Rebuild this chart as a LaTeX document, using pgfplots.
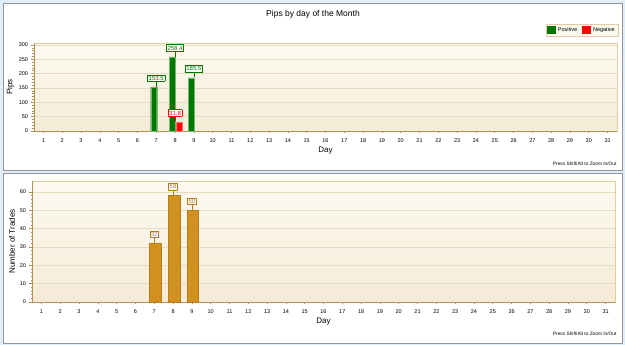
\documentclass[border=0pt]{standalone}
\usepackage{pgfplots}
\pgfplotsset{compat=1.18}
\usepackage{fontspec}
\setmainfont{Liberation Sans}
\definecolor{bargreen}{RGB}{0,120,0}
\definecolor{barred}{RGB}{255,0,0}
\definecolor{bargold}{RGB}{208,145,32}
\definecolor{golddark}{RGB}{185,125,25}
\definecolor{bgtop}{RGB}{253,250,242}
\definecolor{bgbot}{RGB}{245,235,214}
\definecolor{gridtan}{RGB}{232,220,192}
\definecolor{axisline}{RGB}{180,145,80}
\definecolor{bordertan}{RGB}{225,205,160}
\definecolor{panelgray}{RGB}{150,150,150}
\definecolor{paneblue}{RGB}{225,238,250}
\definecolor{legfill}{RGB}{252,249,240}
\newcommand\vallab[2]{{\setlength\fboxsep{0.9pt}\setlength\fboxrule{0.5pt}%
  \vbox{\offinterlineskip\halign{\hfil##\hfil\cr
    \fcolorbox{#1}{white}{\textcolor{#1}{#2}}\cr
    \textcolor{#1}{\rule{0.5pt}{5pt}}\cr}}}}
\pgfplotsset{
  dayaxis/.style={
    scale only axis, anchor=south west,
    xmin=0.5, xmax=31.5, xtick={1,...,31}, minor x tick num=3,
    ymin=0,
    axis x line*=bottom, axis y line*=left,
    axis line style={-, draw=axisline, line width=0.8pt},
    tick align=outside, tick style={draw=axisline, line width=0.6pt},
    major tick length=2.5pt, minor tick length=1.5pt,
    ymajorgrids, grid style={draw=gridtan, line width=0.6pt},
    axis background/.style={shade, shading angle=30, top color=bgtop, bottom color=bgbot, draw=bordertan},
    tick label style={font=\fontsize{5.5}{6}\selectfont},
    /pgf/number format/assume math mode=true,
    xticklabel style={yshift=-1.5pt},
    label style={font=\fontsize{8}{9}\selectfont},
    xlabel={Day},
    xlabel style={yshift=2pt},
    ylabel style={yshift=-2pt},
    clip=false,
  },
  vallabel/.style={
    nodes near coords={\vallab{#1}{\pgfmathprintnumber{\pgfplotspointmeta}}},
    every node near coord/.append style={
      font=\fontsize{6}{6.5}\selectfont, inner sep=0pt, anchor=south, yshift=0.2pt
    }
  }
}
\begin{document}
\begin{tikzpicture}[x=1pt,y=1pt]
\fill[paneblue] (0,0) rectangle (625,345);
\draw[panelgray, fill=white] (3,175) rectangle (622,342);
\draw[panelgray, fill=white] (3,2) rectangle (622,172);
\node[font=\fontsize{8.5}{10}\selectfont] at (313,331) {Pips by day of the Month};
\node[font=\fontsize{4.8}{5}\selectfont, anchor=east] at (620,181) {Press Shift/Alt to Zoom In/Out};
\node[font=\fontsize{4.8}{5}\selectfont, anchor=east] at (620,11) {Press Shift/Alt to Zoom In/Out};

\begin{axis}[dayaxis, at={(34pt,214pt)}, width=583pt, height=88pt,
  ymax=307, ytick={0,50,...,300}, minor y tick num=4,
  ylabel={Pips},
  legend style={at={(1,1)}, anchor=south east, yshift=7pt, xshift=1pt,
    legend columns=2, draw=bordertan, fill=legfill,
    font=\fontsize{5.5}{6}\selectfont, inner sep=1pt,
    /tikz/every even column/.append style={column sep=3pt}},
  legend image code/.code={\path[#1, draw=none] (0pt,-3.5pt) rectangle (9pt,4pt);},
]
\addplot[ybar, bar width=6pt, bar shift=-2.5pt, fill=bargreen, draw=bargreen!55!white, line width=0.4pt, vallabel=bargreen]
  coordinates {(7,153.5) (8,258.4) (9,185.5)};
\addlegendentry{Positive}
\addplot[ybar, bar width=6pt, bar shift=4.5pt, fill=barred, draw=barred!55!white, line width=0.4pt, vallabel=barred]
  coordinates {(8,31.8)};
\addlegendentry{Negative}
\end{axis}

\begin{axis}[dayaxis, at={(32pt,43pt)}, width=583pt, height=121pt,
  ymax=66, ytick={0,10,...,60}, minor y tick num=4,
  ylabel={Number of Trades},
]
\addplot[ybar, bar width=11.5pt, bar shift=1pt, fill=bargold, draw=golddark, line width=0.5pt, vallabel=golddark]
  coordinates {(7,32) (8,58) (9,50)};
\end{axis}
\end{tikzpicture}
\end{document}
